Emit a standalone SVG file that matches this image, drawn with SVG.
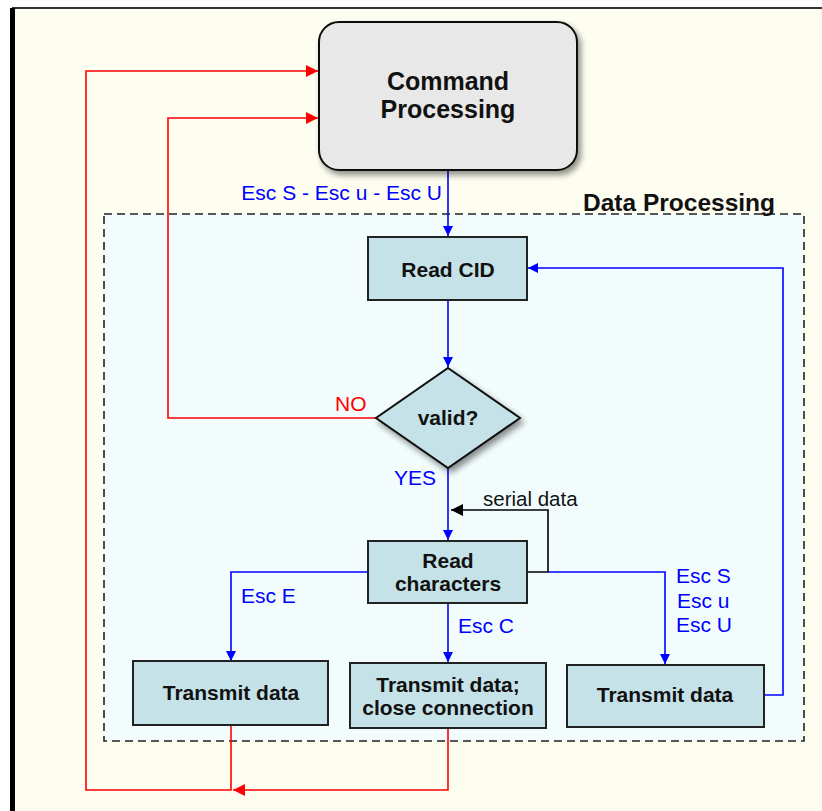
<svg xmlns="http://www.w3.org/2000/svg" width="822" height="811" viewBox="0 0 822 811">
<defs>
<filter id="sh" x="-20%" y="-20%" width="150%" height="150%">
<feGaussianBlur in="SourceAlpha" stdDeviation="3"/>
<feOffset dx="3" dy="4" result="b"/>
<feComponentTransfer><feFuncA type="linear" slope="0.45"/></feComponentTransfer>
<feMerge><feMergeNode/><feMergeNode in="SourceGraphic"/></feMerge>
</filter>
<marker id="ab" viewBox="0 0 10 10" refX="10" refY="5" markerWidth="10" markerHeight="11" markerUnits="userSpaceOnUse" orient="auto"><path d="M0,0 L10,5 L0,10 z" fill="#0000ff"/></marker>
<marker id="ar" viewBox="0 0 10 10" refX="10" refY="5" markerWidth="12" markerHeight="12" markerUnits="userSpaceOnUse" orient="auto"><path d="M0,0 L10,5 L0,10 z" fill="#ff0000"/></marker>
<marker id="ak" viewBox="0 0 10 10" refX="10" refY="5" markerWidth="12" markerHeight="12" markerUnits="userSpaceOnUse" orient="auto"><path d="M0,0 L10,5 L0,10 z" fill="#000"/></marker>
</defs>
<style>
.box{fill:#c5e2e8;stroke:#222;stroke-width:2}
.t{font-family:"Liberation Sans",Arial,sans-serif;font-weight:bold;font-size:21px;fill:#111;text-anchor:middle}
.big{font-size:25px}
.lb{font-family:"Liberation Sans",Arial,sans-serif;font-size:21px;fill:#0000ff}
.lr{font-family:"Liberation Sans",Arial,sans-serif;font-size:21px;fill:#ff0000}
.blue{fill:none;stroke:#0000ff;stroke-width:1.6}
.red{fill:none;stroke:#ff0000;stroke-width:1.6}
.blk{fill:none;stroke:#000;stroke-width:1.6}
</style>
<rect x="0" y="0" width="822" height="811" fill="#ffffff"/>
<rect x="12" y="8" width="810" height="803" fill="#fdfdf0"/>
<line x1="12" y1="8" x2="822" y2="8" stroke="#333" stroke-width="2"/>
<rect x="10" y="8" width="5" height="803" fill="#000"/>

<g id="data-processing">
<rect x="104" y="214" width="700" height="527" fill="#f2fcfc" stroke="#222" stroke-width="1.6" stroke-dasharray="8,5"/>
<text x="775" y="211" font-family="'Liberation Sans',Arial,sans-serif" font-weight="bold" font-size="24.5" fill="#111" text-anchor="end">Data Processing</text>
</g>

<g id="connectors">
<path class="blue" d="M448,170 V236" marker-end="url(#ab)"/>
<text class="lb" x="442" y="200" text-anchor="end">Esc S - Esc u - Esc U</text>
<path class="blue" d="M448,300 V367" marker-end="url(#ab)"/>
<path class="red" d="M376,418 H168 V118 H318" marker-end="url(#ar)"/>
<text class="lr" x="335" y="411">NO</text>
<path class="blue" d="M448,468 V540" marker-end="url(#ab)"/>
<text class="lb" x="394" y="485">YES</text>
<path class="blk" d="M527,572 H548 V510 H451" marker-end="url(#ak)"/>
<text x="483" y="506" font-family="'Liberation Sans',Arial,sans-serif" font-size="20.5" fill="#111">serial data</text>
<path class="blue" d="M368,572 H231 V661" marker-end="url(#ab)"/>
<text class="lb" x="241" y="603">Esc E</text>
<path class="blue" d="M448,603 V662" marker-end="url(#ab)"/>
<text class="lb" x="458" y="633">Esc C</text>
<path class="blue" d="M548,572 H665 V664" marker-end="url(#ab)"/>
<text class="lb" x="676" y="583">Esc S</text>
<text class="lb" x="677" y="608">Esc u</text>
<text class="lb" x="676" y="632">Esc U</text>
<path class="blue" d="M764,695 H783 V268 H528" marker-end="url(#ab)"/>
<path class="red" d="M448,728 V790 H233" marker-end="url(#ar)"/>
<path class="red" d="M231,725 V790 H86 V71 H318" marker-end="url(#ar)"/>
</g>

<g id="command-processing">
<rect x="319" y="22" width="258" height="148" rx="20" ry="20" fill="#e8e8e8" stroke="#111" stroke-width="2" filter="url(#sh)"/>
<text class="t big" x="448" y="90">Command</text>
<text class="t big" x="448" y="118">Processing</text>
</g>

<g id="read-cid">
<rect class="box" x="368" y="237" width="159" height="63"/>
<text class="t" x="448" y="277">Read CID</text>
</g>

<g id="valid">
<path d="M448,368 L520,418 L448,468 L376,418 Z" fill="#c5e2e8" stroke="#111" stroke-width="2" filter="url(#sh)"/>
<text class="t" x="448" y="425">valid?</text>
</g>

<g id="read-characters">
<rect class="box" x="368" y="541" width="159" height="62"/>
<text class="t" x="448" y="568">Read</text>
<text class="t" x="448" y="591">characters</text>
</g>

<g id="transmit-1">
<rect class="box" x="133" y="661" width="195" height="64"/>
<text class="t" x="231" y="700">Transmit data</text>
</g>

<g id="transmit-close">
<rect class="box" x="350" y="663" width="196" height="65"/>
<text class="t" x="448" y="692">Transmit data;</text>
<text class="t" x="448" y="715">close connection</text>
</g>

<g id="transmit-3">
<rect class="box" x="567" y="665" width="197" height="62"/>
<text class="t" x="665" y="702">Transmit data</text>
</g>
</svg>
